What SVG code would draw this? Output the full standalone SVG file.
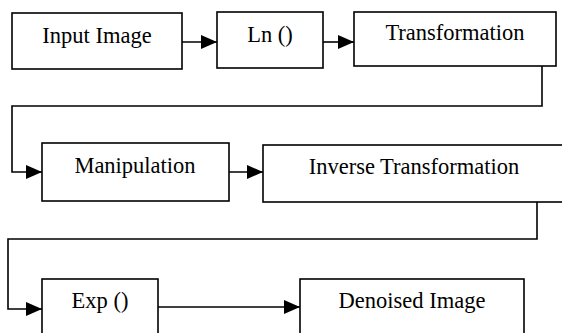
<svg xmlns="http://www.w3.org/2000/svg" width="562" height="333" viewBox="0 0 562 333">
<style>
.box{fill:#fff;stroke:#000;stroke-width:1.6}
.lbl{font-family:"Liberation Serif","Times New Roman",serif;font-size:22.5px;fill:#000;text-anchor:middle}
.con{fill:none;stroke:#000;stroke-width:1.6;marker-end:url(#ah)}
</style>
<defs>
<marker id="ah" viewBox="0 0 16 14" refX="16" refY="7" markerWidth="16" markerHeight="14" markerUnits="userSpaceOnUse" orient="auto">
<path d="M0,0 L16,7 L0,14 Z" fill="#000"/>
</marker>
</defs>
<rect width="562" height="333" fill="#fff"/>
<g id="connectors">
<path class="con" d="M182,42 H217"/>
<path class="con" d="M323,42 H354"/>
<path class="con" d="M542,66 V106 H12 V172 H42"/>
<path class="con" d="M229,172 H263"/>
<path class="con" d="M537,202 V239 H8 V309 H42"/>
<path class="con" d="M158,307 H300"/>
</g>
<g id="input-image">
<rect class="box" x="12" y="13" width="170" height="56"/>
<text class="lbl" x="97" y="43">Input Image</text>
</g>
<g id="ln">
<rect class="box" x="217" y="12" width="106" height="56"/>
<text class="lbl" x="270" y="42">Ln ()</text>
</g>
<g id="transformation">
<rect class="box" x="354" y="12" width="202" height="54"/>
<text class="lbl" x="455" y="40">Transformation</text>
</g>
<g id="manipulation">
<rect class="box" x="42" y="143" width="187" height="58"/>
<text class="lbl" x="135" y="173">Manipulation</text>
</g>
<g id="inverse-transformation">
<rect class="box" x="263" y="145" width="310" height="57"/>
<text class="lbl" x="414" y="174">Inverse Transformation</text>
</g>
<g id="exp">
<rect class="box" x="42" y="279" width="116" height="70"/>
<text class="lbl" x="100" y="308">Exp ()</text>
</g>
<g id="denoised-image">
<rect class="box" x="300" y="279" width="224" height="70"/>
<text class="lbl" x="412" y="308">Denoised Image</text>
</g>
</svg>
